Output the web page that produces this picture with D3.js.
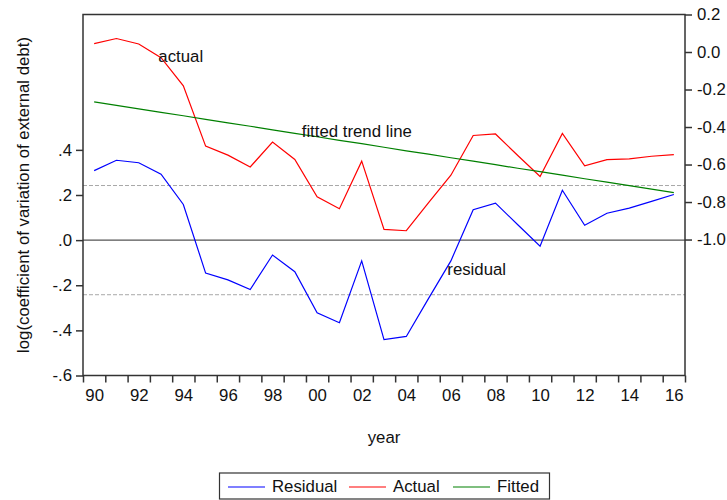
<!DOCTYPE html>
<html>
<head>
<meta charset="utf-8">
<script src="https://cdn.jsdelivr.net/npm/d3@7"></script>
<style>
  body { margin: 0; background: #fff; }
  svg { display: block; }
  text { font-family: "Liberation Sans", Arial, sans-serif; font-size: 16.8px; fill: #111; }
</style>
</head>
<body>
<svg id="chart" width="727" height="500"></svg>
<script>
// ---- data ----
const years = [1990,1991,1992,1993,1994,1995,1996,1997,1998,1999,2000,2001,2002,2003,2004,2005,2006,2007,2008,2009,2010,2011,2012,2013,2014,2015,2016];
const actual = [0.045,0.072,0.043,-0.030,-0.180,-0.502,-0.550,-0.613,-0.480,-0.573,-0.772,-0.836,-0.582,-0.946,-0.953,-0.803,-0.657,-0.445,-0.437,-0.552,-0.664,-0.434,-0.607,-0.574,-0.570,-0.556,-0.547];
const fitted = [-0.266,-0.285,-0.303,-0.322,-0.340,-0.359,-0.378,-0.396,-0.415,-0.434,-0.452,-0.471,-0.489,-0.508,-0.527,-0.545,-0.564,-0.582,-0.601,-0.620,-0.638,-0.657,-0.676,-0.694,-0.713,-0.731,-0.750];
const residual = [0.308,0.354,0.343,0.292,0.158,-0.146,-0.176,-0.219,-0.066,-0.140,-0.322,-0.366,-0.092,-0.441,-0.427,-0.258,-0.092,0.135,0.164,0.068,-0.027,0.221,0.066,0.119,0.142,0.172,0.202];
const residualSD = 0.242;
const xTickLabels = ["90","92","94","96","98","00","02","04","06","08","10","12","14","16"];
const leftTicks = [-0.6,-0.4,-0.2,0.0,0.2,0.4];
const leftTickLabels = ["-.6","-.4","-.2",".0",".2",".4"];
const rightTicks = [-1.0,-0.8,-0.6,-0.4,-0.2,0.0,0.2];
const rightTickLabels = ["-1.0","-0.8","-0.6","-0.4","-0.2","0.0","0.2"];
const seriesNames = ["Residual","Actual","Fitted"];
const seriesColors = ["#0000ff","#ff0000","#008000"];

// ---- layout ----
const svg = d3.select("#chart");
const L = 83, R = 685, T = 14.5, B = 375.5;

const x = d3.scaleLinear().domain([1989.5, 2016.5]).range([L, R]);
const yL = d3.scaleLinear().domain([-0.6, 1.0]).range([B, T]);
const yR = d3.scaleLinear().domain([-1.725, 0.2]).range([B, T]);

// reference lines
svg.selectAll("line.sd").data([residualSD, -residualSD]).enter().append("line")
  .attr("x1", L).attr("x2", R)
  .attr("y1", d => yL(d)).attr("y2", d => yL(d))
  .attr("stroke", "#a8a8a8").attr("stroke-width", 1).attr("stroke-dasharray", "4,2");
svg.append("line")
  .attr("x1", L).attr("x2", R).attr("y1", yL(0)).attr("y2", yL(0))
  .attr("stroke", "#555").attr("stroke-width", 1.3);

// series
const lineL = d3.line().x((d, i) => x(years[i])).y(d => yL(d));
const lineR = d3.line().x((d, i) => x(years[i])).y(d => yR(d));
svg.append("path").attr("d", lineL(residual)).attr("fill", "none").attr("stroke", seriesColors[0]).attr("stroke-width", 1.2);
svg.append("path").attr("d", lineR(actual)).attr("fill", "none").attr("stroke", seriesColors[1]).attr("stroke-width", 1.2);
svg.append("path").attr("d", lineR(fitted)).attr("fill", "none").attr("stroke", seriesColors[2]).attr("stroke-width", 1.2);

// frame
svg.append("rect").attr("x", L).attr("y", T).attr("width", R - L).attr("height", B - T)
  .attr("fill", "none").attr("stroke", "#333").attr("stroke-width", 1.5);

// axes
const boundaries = d3.range(1989.5, 2017, 1);
const xTicksAxis = svg.append("g").attr("transform", `translate(0,${B})`)
  .call(d3.axisBottom(x).tickValues(boundaries).tickSize(7).tickFormat(""));
const labelYears = years.filter(y => y % 2 === 0);
const xLabAxis = svg.append("g").attr("transform", `translate(0,${B})`)
  .call(d3.axisBottom(x).tickValues(labelYears).tickSize(0).tickPadding(14)
    .tickFormat((d, i) => xTickLabels[i]));
const lAxis = svg.append("g").attr("transform", `translate(${L},0)`)
  .call(d3.axisLeft(yL).tickValues(leftTicks).tickSize(7).tickPadding(4)
    .tickFormat((d, i) => leftTickLabels[i]));
const rAxis = svg.append("g").attr("transform", `translate(${R},0)`)
  .call(d3.axisRight(yR).tickValues(rightTicks).tickSize(7).tickPadding(5)
    .tickFormat((d, i) => rightTickLabels[i]));
[xTicksAxis, xLabAxis, lAxis, rAxis].forEach(g => {
  g.select(".domain").remove();
  g.selectAll(".tick line").attr("stroke", "#333").attr("stroke-width", 1.5);
  g.selectAll("text").style("fill", "#111");
});
svg.selectAll("g").attr("font-size", null).attr("font-family", null);

// axis titles
svg.append("text").attr("x", (L + R) / 2).attr("y", 443).attr("text-anchor", "middle").text("year");
svg.append("text")
  .attr("transform", `translate(29,${(T + B) / 2}) rotate(-90)`)
  .attr("text-anchor", "middle")
  .text("log(coefficient of variation of external debt)");

// in-plot annotations
svg.append("text").attr("x", x(1992.88)).attr("y", yR(-0.055)).text("actual");
svg.append("text").attr("x", x(1999.31)).attr("y", yR(-0.455)).text("fitted trend line");
svg.append("text").attr("x", x(2005.84)).attr("y", yL(-0.155)).text("residual");

// legend
const legend = svg.append("g");
legend.append("rect").attr("x", 219.5).attr("y", 473).attr("width", 330).attr("height", 26)
  .attr("fill", "#fff").attr("stroke", "#333").attr("stroke-width", 1.2);
const legX = [228, 349, 453];
seriesNames.forEach((n, i) => {
  legend.append("line").attr("x1", legX[i]).attr("x2", legX[i] + 37)
    .attr("y1", 487).attr("y2", 487).attr("stroke", seriesColors[i]).attr("stroke-width", 1.2);
  legend.append("text").attr("x", legX[i] + 44).attr("y", 492).text(n);
});
</script>
</body>
</html>
